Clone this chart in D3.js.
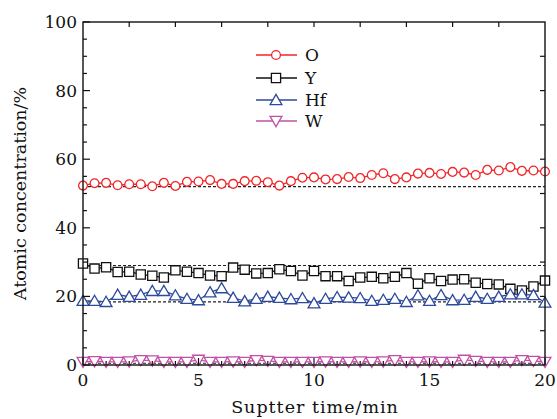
<!DOCTYPE html>
<html>
<head>
<meta charset="utf-8">
<script src="https://cdn.jsdelivr.net/npm/d3@7"></script>
<style>
  html, body { margin: 0; padding: 0; background: #fff; }
</style>
</head>
<body>
<svg id="chart" width="557" height="419" font-family="'DejaVu Serif', 'Liberation Serif', serif"></svg>
<script>
// Sputter time (min), sampled every 0.5 min
const times = d3.range(0, 20.0001, 0.5);

const oValues = [52.3, 53.0, 53.1, 52.4, 52.7, 52.7, 52.1, 53.1, 52.2, 53.4,
  53.5, 53.9, 52.8, 52.8, 53.6, 53.7, 53.3, 52.3, 53.6, 54.6,
  54.7, 54.1, 54.2, 54.8, 54.5, 55.4, 55.9, 54.2, 54.7, 55.8,
  56.0, 55.7, 56.3, 56.1, 55.4, 56.9, 56.7, 57.7, 56.6, 56.7, 56.4];

const yValues = [29.6, 28.1, 28.5, 27.1, 27.2, 26.4, 26.0, 25.5, 27.6, 27.2,
  26.8, 26.1, 25.9, 28.4, 27.8, 26.7, 26.8, 27.9, 27.4, 26.1,
  27.4, 25.9, 25.9, 24.5, 25.5, 25.7, 25.3, 25.7, 26.8, 23.7,
  25.3, 24.5, 24.9, 25.0, 24.0, 23.6, 23.5, 22.2, 21.7, 22.9, 24.6];

const hfValues = [18.7, 18.7, 18.4, 20.5, 19.9, 20.5, 21.6, 21.6, 20.3, 19.3,
  18.9, 21.2, 22.4, 19.6, 18.6, 19.3, 19.9, 19.6, 19.2, 19.5,
  18.0, 19.3, 19.8, 19.7, 19.5, 18.7, 19.0, 19.3, 18.4, 20.3,
  18.7, 20.4, 18.9, 19.0, 19.9, 19.3, 19.9, 20.6, 20.6, 20.4, 18.2];

const wValues = [0.9, 1.1, 0.9, 0.9, 1.0, 1.4, 1.3, 0.9, 0.9, 0.9,
  1.5, 0.9, 0.9, 1.0, 0.9, 1.4, 1.2, 0.9, 0.9, 0.9,
  0.9, 1.0, 0.9, 0.9, 1.0, 0.9, 1.0, 1.4, 0.9, 0.9,
  1.0, 0.9, 0.9, 1.5, 1.2, 0.9, 0.9, 0.9, 1.4, 1.2, 0.9];

const seriesNames = ["O", "Y", "Hf", "W"];
const seriesColors = ["#f0262a", "#111111", "#2d4a9c", "#c04fa6"];
const seriesMarkers = ["circle", "square", "triUp", "triDown"];
const seriesValues = [oValues, yValues, hfValues, wValues];

// Horizontal dashed reference levels (%)
const refLevels = [52, 29, 18.4, 0.5];

const xTicks = [0, 5, 10, 15, 20];
const yTicks = [0, 20, 40, 60, 80, 100];

const svg = d3.select("#chart");
const plotL = 83, plotR = 545, plotT = 22, plotB = 365;

const x = d3.scaleLinear().domain([0, 20]).range([plotL, plotR]);
const y = d3.scaleLinear().domain([0, 100]).range([plotB, plotT]);

// Reference dashed lines
svg.append("g").selectAll("line").data(refLevels).join("line")
  .attr("x1", plotL).attr("x2", plotR)
  .attr("y1", d => y(d)).attr("y2", d => y(d))
  .attr("stroke", "#222").attr("stroke-width", 1.1)
  .attr("stroke-dasharray", "3,2");

// Marker shapes, drawn around (0,0)
function markerPath(type) {
  const s = 4.6;
  if (type === "square") return `M${-s},${-s}H${s}V${s}H${-s}Z`;
  if (type === "triUp") return `M0,${-s - 1}L${s + 1.3},${s}L${-s - 1.3},${s}Z`;
  if (type === "triDown") return `M0,${s + 1}L${s + 1.3},${-s}L${-s - 1.3},${-s}Z`;
  return null;
}

const line = d3.line().x((d, i) => x(times[i])).y(d => y(d));

seriesValues.forEach((vals, k) => {
  const g = svg.append("g");
  g.append("path").datum(vals)
    .attr("d", line).attr("fill", "none")
    .attr("stroke", seriesColors[k]).attr("stroke-width", 1.3);
  const pts = g.selectAll("g.pt").data(vals).join("g")
    .attr("transform", (d, i) => `translate(${x(times[i])},${y(d)})`);
  if (seriesMarkers[k] === "circle") {
    pts.append("circle").attr("r", 4.4)
      .attr("fill", "#fff").attr("stroke", seriesColors[k]).attr("stroke-width", 1.3);
  } else {
    pts.append("path").attr("d", markerPath(seriesMarkers[k]))
      .attr("fill", "#fff").attr("stroke", seriesColors[k]).attr("stroke-width", 1.3);
  }
});

// Axes frame
svg.append("rect").attr("x", plotL).attr("y", plotT)
  .attr("width", plotR - plotL).attr("height", plotB - plotT)
  .attr("fill", "none").attr("stroke", "#111").attr("stroke-width", 1.4);

const tickG = svg.append("g").attr("stroke", "#111").attr("stroke-width", 1.2);
// left axis: major every 20, minor every 5
d3.range(0, 100.001, 5).forEach(v => {
  const len = v % 20 === 0 ? 7 : 4;
  tickG.append("line").attr("x1", plotL).attr("x2", plotL + len)
    .attr("y1", y(v)).attr("y2", y(v));
});
// bottom axis: major every 5, minor every 1
d3.range(0, 20.001, 1).forEach(v => {
  const len = v % 5 === 0 ? 7 : 4;
  tickG.append("line").attr("x1", x(v)).attr("x2", x(v))
    .attr("y1", plotB).attr("y2", plotB - len);
});
// top axis ticks every 2 min
d3.range(2, 20, 2).forEach(v => {
  tickG.append("line").attr("x1", x(v)).attr("x2", x(v))
    .attr("y1", plotT).attr("y2", plotT + 5);
});
// right axis ticks every 10 %
d3.range(10, 100, 10).forEach(v => {
  tickG.append("line").attr("x1", plotR).attr("x2", plotR - 5)
    .attr("y1", y(v)).attr("y2", y(v));
});

// Tick labels
svg.append("g").selectAll("text").data(yTicks).join("text")
  .attr("x", plotL - 6).attr("y", d => y(d) + 6)
  .attr("text-anchor", "end").attr("font-size", 17).attr("fill", "#111")
  .text(d => d);
svg.append("g").selectAll("text").data(xTicks).join("text")
  .attr("x", d => x(d)).attr("y", plotB + 21)
  .attr("text-anchor", "middle").attr("font-size", 17).attr("fill", "#111")
  .text(d => d);

// Axis titles
svg.append("text")
  .attr("x", 315).attr("y", 413)
  .attr("text-anchor", "middle").attr("font-size", 17.5)
  .attr("letter-spacing", 1).attr("fill", "#111")
  .text("Suptter time/min");
svg.append("text")
  .attr("transform", `translate(26,${(plotT + plotB) / 2}) rotate(-90)`)
  .attr("text-anchor", "middle").attr("font-size", 17.5).attr("fill", "#111")
  .text("Atomic concentration/%");

// Legend
const legendRows = [55, 78, 100, 121];
seriesNames.forEach((name, k) => {
  const ly = legendRows[k];
  const g = svg.append("g");
  g.append("line").attr("x1", 256).attr("x2", 297)
    .attr("y1", ly).attr("y2", ly)
    .attr("stroke", seriesColors[k]).attr("stroke-width", 1.3);
  if (seriesMarkers[k] === "circle") {
    g.append("circle").attr("cx", 276).attr("cy", ly).attr("r", 4.4)
      .attr("fill", "#fff").attr("stroke", seriesColors[k]).attr("stroke-width", 1.3);
  } else {
    g.append("path").attr("d", markerPath(seriesMarkers[k]))
      .attr("transform", `translate(276,${ly})`)
      .attr("fill", "#fff").attr("stroke", seriesColors[k]).attr("stroke-width", 1.3);
  }
  g.append("text").attr("x", 305).attr("y", ly + 6)
    .attr("font-size", 17).attr("fill", "#111").text(name);
});
</script>
</body>
</html>
